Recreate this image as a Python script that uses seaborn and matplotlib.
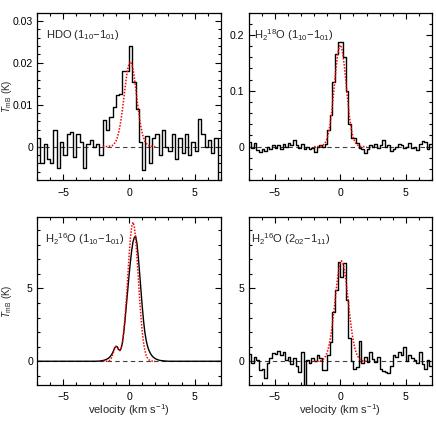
import matplotlib
matplotlib.use("Agg")
import matplotlib.pyplot as plt
from matplotlib.ticker import MultipleLocator, FuncFormatter
import numpy as np
import pandas as pd
import seaborn as sns

# channel grids (km/s)
vel_hdo = np.linspace(-6.875, 6.875, 56)
vel_h218o = np.linspace(-6.9, 6.9, 70)
vel_h2o_110 = np.linspace(-7.0, 7.0, 141)
vel_h2o_202 = np.linspace(-6.9, 6.9, 70)
vel_fit = np.linspace(-2.0, 2.0, 41)

# HDO 1_10-1_01 spectrum, mK
t_hdo_mk = [2, -4, 0.5, -3, -4, 4, -5, 1, -2, 3, 3.5, -2.5, 3, 1, -5, 0.5,
            1.5, 0, 0.5, -2, 6.3, 4, 7, 9.5, 12.3, 12.5, 18, 18, 24, 15.5, 9,
            1, -5.5, 2.5, -4, 2, 3, -2, 4, 0, -1, 3, -3, 2, -1.5, 3, -2, 1,
            -1, 6.5, 3, 0, 1.5, -1.5, 2, -9]
fit_hdo_mk = [0, 0, 0, 0, 0, 0.1, 0.1, 0.2, 0.4, 0.8, 1.3, 2.1, 3.2, 4.8, 6.7,
              9.0, 11.5, 14.1, 16.6, 18.5, 19.8, 20.3, 19.8, 18.5, 16.6, 14.1,
              11.5, 9.0, 6.7, 4.8, 3.2, 2.1, 1.3, 0.8, 0.4, 0.2, 0.1, 0.1, 0,
              0, 0]

# H2-18O 1_10-1_01 spectrum, mK
t_h218o_mk = [8, -2, 6, -6, -9, -4, -8, 0, -5, 3, -3, 2, -4, 5, 0, 7, 2, 11,
              3, -2, 4, -4, 0, -5, -2, -10, 0, 2, -1, 5, 30, 57, 116, 165, 187,
              187, 160, 100, 40, 16, 15, 6, -3, -4, -12, -4, 2, 0, 5, -3, 2,
              12, -1, 3, -8, -4, -1, 5, 2, -3, -1, 6, -2, 0, -6, 4, 10, 8, -4,
              4]
fit_h218o_mk = [0, 0, 0, 0, 0.3, 0.7, 1.4, 2.8, 5.2, 9.2, 15.4, 24.6, 37.5,
                54.3, 74.8, 98.2, 122.6, 145.7, 164.9, 177.6, 182, 177.6,
                164.9, 145.7, 122.6, 98.2, 74.8, 54.3, 37.5, 24.6, 15.4, 9.2,
                5.2, 2.8, 1.4, 0.7, 0.3, 0, 0, 0, 0]

# H2-16O 1_10-1_01 spectrum, K (line region -2.5..3.0, flat elsewhere)
t_h2o_110_line = [0.0, 0.01, 0.01, 0.02, 0.03, 0.05, 0.07, 0.1, 0.14, 0.19,
                  0.26, 0.36, 0.5, 0.68, 0.9, 1.03, 1.0, 0.82, 0.74, 0.88,
                  1.3, 2.0, 2.9, 3.9, 4.9, 5.9, 6.8, 7.6, 8.2, 8.5, 8.6, 8.1,
                  7.2, 6.1, 4.9, 3.8, 2.8, 2.0, 1.45, 1.05, 0.78, 0.58, 0.43,
                  0.32, 0.24, 0.18, 0.13, 0.1, 0.07, 0.05, 0.04, 0.03, 0.02,
                  0.01, 0.01, 0.0]
t_h2o_110 = [0.0] * 45 + t_h2o_110_line + [0.0] * 40
fit_h2o_110 = [0, 0, 0, 0, 0.01, 0.04, 0.13, 0.31, 0.59, 0.86, 1.0, 0.95, 0.8,
               0.73, 0.89, 1.33, 2.08, 3.10, 4.37, 5.79, 7.21, 8.43, 9.26,
               9.55, 9.26, 8.43, 7.21, 5.79, 4.37, 3.10, 2.07, 1.29, 0.76,
               0.42, 0.22, 0.11, 0.05, 0.02, 0.01, 0, 0]

# H2-16O 2_02-1_11 spectrum, K
t_h2o_202 = [0.5, -0.1, 0.3, 0.1, -0.6, -0.5, -1.15, -0.1, 0.2, 0.6, 0.5, 0.7,
             0.4, 0.65, 0.1, 0.3, -0.2, 0.25, -0.3, -0.75, 0.65, -1.7, 0.1,
             -0.15, 0.2, 0.0, 0.4, 0.2, -0.6, -0.6, 0.4, 1.3, 3.4, 4.9, 6.8,
             5.8, 6.75, 4.2, 1.6, 0.0, -0.55, -0.4, 1.4, -0.1, 0.3, -0.05,
             0.65, 0.15, -0.05, 0.3, -0.5, -0.7, -0.75, -0.8, -0.3, 0.4, 0.3,
             0.65, 0.4, 1.0, 0.0, 0.4, 0.2, 0.1, -0.15, 0.65, -0.2, -0.5, 0.1,
             -0.3]
fit_h2o_202 = [0, 0, 0, 0.01, 0.02, 0.04, 0.08, 0.14, 0.23, 0.39, 0.61, 0.93,
               1.37, 1.92, 2.59, 3.36, 4.18, 5.01, 5.76, 6.37, 6.76, 6.90,
               6.76, 6.37, 5.76, 5.01, 4.18, 3.36, 2.59, 1.92, 1.37, 0.93,
               0.61, 0.39, 0.23, 0.14, 0.08, 0.04, 0.02, 0.01, 0]

labels = [r"HDO (1$_{10}$$-$1$_{01}$)",
          r"H$_2$$^{18}$O (1$_{10}$$-$1$_{01}$)",
          r"H$_2$$^{16}$O (1$_{10}$$-$1$_{01}$)",
          r"H$_2$$^{16}$O (2$_{02}$$-$1$_{11}$)"]

panels = [
    dict(vel=vel_hdo, t=np.array(t_hdo_mk) / 1000, fit=np.array(fit_hdo_mk) / 1000,
         steps=True, ylim=(-0.008, 0.032), major=0.01, minor=0.002,
         rect=[0.085, 0.587, 0.422, 0.384], lab_x=0.05),
    dict(vel=vel_h218o, t=np.array(t_h218o_mk) / 1000, fit=np.array(fit_h218o_mk) / 1000,
         steps=True, ylim=(-0.06, 0.24), major=0.1, minor=0.02,
         rect=[0.570, 0.587, 0.421, 0.384], lab_x=0.03),
    dict(vel=vel_h2o_110, t=np.array(t_h2o_110), fit=np.array(fit_h2o_110),
         steps=False, ylim=(-1.6, 9.9), major=5, minor=1,
         rect=[0.085, 0.118, 0.422, 0.384], lab_x=0.043),
    dict(vel=vel_h2o_202, t=np.array(t_h2o_202), fit=np.array(fit_h2o_202),
         steps=True, ylim=(-1.6, 9.9), major=5, minor=1,
         rect=[0.570, 0.118, 0.421, 0.384], lab_x=0.012),
]

sns.set_theme(style="ticks")
plt.rcParams["font.family"] = ["Liberation Sans", "DejaVu Sans"]
plt.rcParams["mathtext.fontset"] = "custom"
plt.rcParams["mathtext.rm"] = "Liberation Sans"
plt.rcParams["mathtext.it"] = "Liberation Sans:italic"
plt.rcParams["axes.unicode_minus"] = True


def fmt(val, pos):
    return ("%g" % round(val, 6)).replace("-", "\u2212")


fig = plt.figure(figsize=(4.36, 4.36), dpi=100)

for i, p in enumerate(panels):
    ax = fig.add_axes(p["rect"])
    ax.axhline(0, color="0.25", lw=0.8, ls=(0, (4, 3)), zorder=1)
    df = pd.DataFrame({"velocity": p["vel"], "T": p["t"]})
    kw = dict(drawstyle="steps-mid") if p["steps"] else {}
    sns.lineplot(data=df, x="velocity", y="T", ax=ax, color="black", lw=1.0,
                 estimator=None, sort=False, zorder=2, **kw)
    dfit = pd.DataFrame({"velocity": vel_fit, "T": p["fit"]})
    sns.lineplot(data=dfit, x="velocity", y="T", ax=ax, color="red", lw=1.1,
                 ls=(0, (1, 1)), estimator=None, sort=False, zorder=3)

    ax.set_xlim(-7, 7)
    ax.set_ylim(*p["ylim"])
    ax.xaxis.set_major_locator(MultipleLocator(5))
    ax.xaxis.set_minor_locator(MultipleLocator(1))
    ax.yaxis.set_major_locator(MultipleLocator(p["major"]))
    ax.yaxis.set_minor_locator(MultipleLocator(p["minor"]))
    ax.xaxis.set_major_formatter(FuncFormatter(fmt))
    ax.yaxis.set_major_formatter(FuncFormatter(fmt))
    ax.tick_params(which="both", direction="in", top=True, right=True,
                   width=0.8, colors="black", labelsize=7.6)
    ax.tick_params(which="major", length=4.5)
    ax.tick_params(which="minor", length=2.2)
    ax.tick_params(axis="x", pad=5.5)
    ax.tick_params(axis="y", pad=3)
    for s in ax.spines.values():
        s.set_linewidth(0.9)
        s.set_color("black")

    ax.text(p["lab_x"], 0.866, labels[i], transform=ax.transAxes,
            ha="left", va="center", fontsize=8)

    if i % 2 == 0:
        ax.set_ylabel(r"$T_{\rm mB}$ (K)", fontsize=7)
        ax.yaxis.set_label_coords(-0.128, 0.5)
    else:
        ax.set_ylabel("")
    if i >= 2:
        ax.set_xlabel(r"velocity (km s$^{-1}$)", fontsize=8)
        ax.xaxis.set_label_coords(0.5, -0.105)
    else:
        ax.set_xlabel("")

fig.savefig("out.png", dpi=100)
